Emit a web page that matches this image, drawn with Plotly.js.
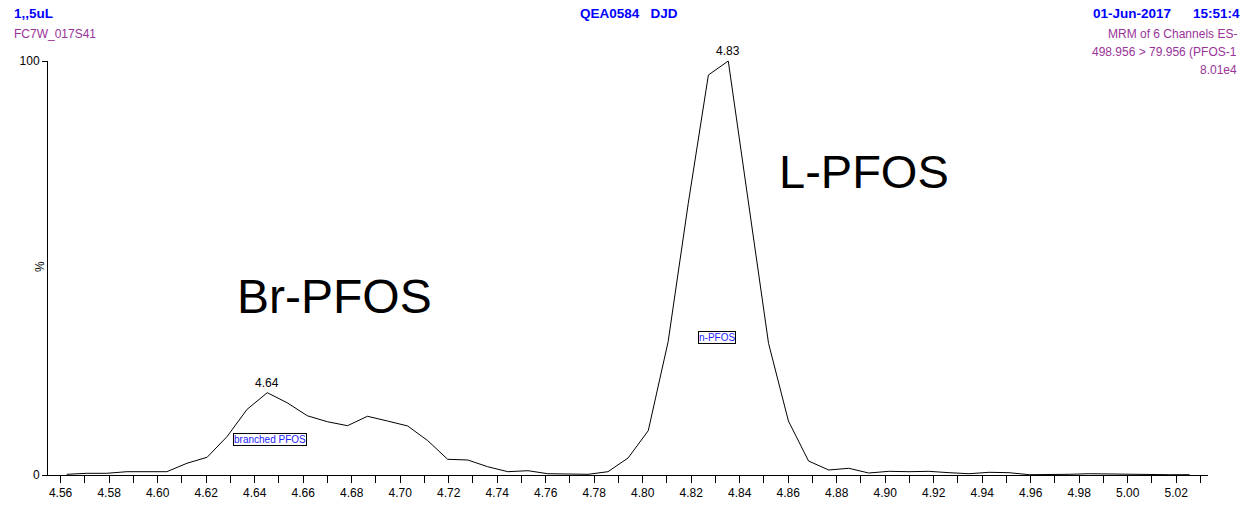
<!DOCTYPE html>
<html>
<head>
<meta charset="utf-8">
<script src="https://cdn.plot.ly/plotly-3.0.1.min.js"></script>
<style>
html,body{margin:0;padding:0;background:#fff;}
#chart{width:1240px;height:505px;}
</style>
</head>
<body>
<div id="chart"></div>
<script>
// Retention time (min)
var retentionTime = [
  4.5625, 4.5708, 4.5790, 4.5873, 4.5956, 4.6038, 4.6121, 4.6204, 4.6286, 4.6369,
  4.6452, 4.6534, 4.6617, 4.6700, 4.6783, 4.6865, 4.6948, 4.7031, 4.7113, 4.7196,
  4.7279, 4.7361, 4.7444, 4.7527, 4.7609, 4.7692, 4.7775, 4.7857, 4.7940, 4.8023,
  4.8105, 4.8188, 4.8271, 4.8353, 4.8436, 4.8519, 4.8601, 4.8684, 4.8767, 4.8850,
  4.8932, 4.9015, 4.9098, 4.9180, 4.9263, 4.9346, 4.9428, 4.9511, 4.9594, 4.9676,
  4.9759, 4.9842, 4.9924, 5.0007, 5.0090, 5.0172, 5.0255
];
// Relative intensity (%)
var intensity = [
  0.17, 0.41, 0.41, 0.80, 0.80, 0.80, 2.83, 4.28, 9.25, 15.87,
  19.88, 17.46, 14.32, 12.87, 11.91, 14.18, 13.04, 11.84, 8.33, 3.79,
  3.62, 2.00, 0.80, 1.04, 0.31, 0.31, 0.17, 0.80, 4.11, 10.70,
  32.20, 65.63, 96.62, 100.0, 66.01, 31.81, 13.04, 3.38, 1.21, 1.62,
  0.48, 0.89, 0.80, 0.89, 0.56, 0.31, 0.65, 0.56, 0.07, 0.07,
  0.17, 0.31, 0.24, 0.07, 0.17, 0.07, 0.07
];
var xTickVals = [4.56,4.58,4.60,4.62,4.64,4.66,4.68,4.70,4.72,4.74,4.76,4.78,4.80,4.82,4.84,4.86,4.88,4.90,4.92,4.94,4.96,4.98,5.00,5.02];
var xTickText = ["4.56","4.58","4.60","4.62","4.64","4.66","4.68","4.70","4.72","4.74","4.76","4.78","4.80","4.82","4.84","4.86","4.88","4.90","4.92","4.94","4.96","4.98","5.00","5.02"];
var yTickVals = [0, 100];
var yTickText = ["0", "100"];
var peakIdx = [10, 33];
var peakText = ["4.64", "4.83"];

var FONT = "Liberation Sans, Arial, Helvetica, sans-serif";
var BLUE = "#0000ff";
var PURPLE = "#993399";

// pixel helpers for layout placement (plot area: x 48..1208, y 61..475)
function px(x){ return (x - 48) / 1160; }
function py(y){ return (475 - y) / 414; }

var trace = {
  x: retentionTime,
  y: intensity,
  type: "scatter",
  mode: "lines",
  line: {color: "#000000", width: 1},
  cliponaxis: false,
  hoverinfo: "skip"
};

var annotations = [];
// peak labels
for (var k = 0; k < peakIdx.length; k++) {
  annotations.push({
    x: retentionTime[peakIdx[k]], y: intensity[peakIdx[k]], xref: "x", yref: "y",
    text: peakText[k], showarrow: false, xanchor: "center", yanchor: "bottom", yshift: 1,
    font: {family: FONT, size: 12, color: "#000"}
  });
}
// boxed component labels
annotations.push({x: px(270), y: py(439.7), xref: "paper", yref: "paper", text: "branched PFOS",
  showarrow: false, xanchor: "center", yanchor: "middle", font: {family: FONT, size: 10, color: "#2222ff"},
  bgcolor: "#ffffff", bordercolor: "#000000", borderwidth: 1, borderpad: 0});
annotations.push({x: px(717), y: py(337.5), xref: "paper", yref: "paper", text: "n-PFOS",
  showarrow: false, xanchor: "center", yanchor: "middle", font: {family: FONT, size: 10, color: "#2222ff"},
  bgcolor: "#ffffff", bordercolor: "#000000", borderwidth: 1, borderpad: 0});
// big labels
annotations.push({x: px(334), y: py(296), xref: "paper", yref: "paper", text: "Br-PFOS",
  showarrow: false, xanchor: "center", yanchor: "middle", font: {family: FONT, size: 48, color: "#000"}});
annotations.push({x: px(864), y: py(171), xref: "paper", yref: "paper", text: "L-PFOS",
  showarrow: false, xanchor: "center", yanchor: "middle", font: {family: FONT, size: 47, color: "#000"}});
// y axis "%" label
annotations.push({x: px(40), y: py(267), xref: "paper", yref: "paper", text: "%", textangle: -90,
  showarrow: false, xanchor: "center", yanchor: "middle", font: {family: FONT, size: 12, color: "#000"}});
// header
annotations.push({x: px(12), y: py(14), xref: "paper", yref: "paper", text: "<b>1,,5uL</b>",
  showarrow: false, xanchor: "left", yanchor: "middle", font: {family: FONT, size: 13.5, color: BLUE}});
annotations.push({x: px(12), y: py(34), xref: "paper", yref: "paper", text: "FC7W_017S41",
  showarrow: false, xanchor: "left", yanchor: "middle", font: {family: FONT, size: 12, color: PURPLE}});
annotations.push({x: px(628.5), y: py(14), xref: "paper", yref: "paper", text: "<b>QEA0584   DJD</b>",
  showarrow: false, xanchor: "center", yanchor: "middle", font: {family: FONT, size: 13.5, color: BLUE}});
annotations.push({x: px(1091), y: py(14), xref: "paper", yref: "paper", text: "<b>01-Jun-2017</b>",
  showarrow: false, xanchor: "left", yanchor: "middle", font: {family: FONT, size: 13.5, color: BLUE}});
annotations.push({x: px(1191), y: py(14), xref: "paper", yref: "paper", text: "<b>15:51:4</b>",
  showarrow: false, xanchor: "left", yanchor: "middle", font: {family: FONT, size: 13.5, color: BLUE}});
annotations.push({x: px(1239), y: py(34), xref: "paper", yref: "paper", text: "MRM of 6 Channels ES-",
  showarrow: false, xanchor: "right", yanchor: "middle", font: {family: FONT, size: 12, color: PURPLE}});
annotations.push({x: px(1239), y: py(52), xref: "paper", yref: "paper", text: "498.956 > 79.956 (PFOS-1",
  showarrow: false, xanchor: "right", yanchor: "middle", font: {family: FONT, size: 12, color: PURPLE}});
annotations.push({x: px(1239), y: py(70), xref: "paper", yref: "paper", text: "8.01e4",
  showarrow: false, xanchor: "right", yanchor: "middle", font: {family: FONT, size: 12, color: PURPLE}});

var layout = {
  width: 1240, height: 505,
  margin: {l: 48, r: 32, t: 61, b: 30, pad: 0},
  paper_bgcolor: "#ffffff", plot_bgcolor: "#ffffff",
  showlegend: false,
  font: {family: FONT, size: 12, color: "#000"},
  xaxis: {
    range: [4.5548, 5.0331],
    showgrid: false, zeroline: false,
    showline: true, linecolor: "#000", linewidth: 1,
    tickmode: "array", tickvals: xTickVals, ticktext: xTickText,
    ticks: "outside", ticklen: 7, tickcolor: "rgba(0,0,0,0)", tickwidth: 1,
    tickfont: {family: FONT, size: 12, color: "#000"},
    minor: {tickmode: "linear", tick0: 4.56, dtick: 0.01, ticks: "outside", ticklen: 7, tickcolor: "#000", tickwidth: 1, showgrid: false}
  },
  yaxis: {
    range: [0, 100],
    showgrid: false, zeroline: false,
    showline: true, linecolor: "#000", linewidth: 1,
    tickmode: "array", tickvals: yTickVals, ticktext: yTickText,
    ticks: "outside", ticklen: 5, tickcolor: "#000", tickwidth: 1,
    tickfont: {family: FONT, size: 12, color: "#000"}
  },
  annotations: annotations
};

Plotly.newPlot("chart", [trace], layout, {displayModeBar: false, staticPlot: true});
</script>
</body>
</html>
